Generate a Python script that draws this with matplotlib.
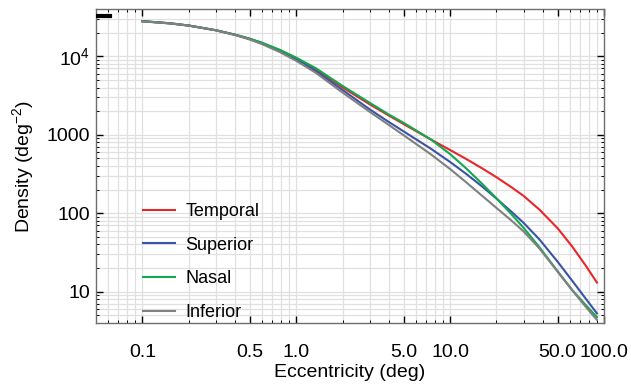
import matplotlib
matplotlib.use("Agg")
import matplotlib.pyplot as plt
import numpy as np

plt.rcParams['font.family'] = ['Liberation Sans', 'DejaVu Sans']
plt.rcParams['mathtext.fontset'] = 'custom'
plt.rcParams['mathtext.rm'] = 'Liberation Sans'
plt.rcParams['mathtext.it'] = 'Liberation Sans'

# Data
ecc = [0.1, 0.15, 0.2, 0.3, 0.4, 0.5, 0.6, 0.78, 1.0, 1.34, 2.0, 3.0, 4.0, 5.0,
       7.5, 10.0, 12.6, 16.2, 20.0, 25.0, 30.0, 38.0, 50.0, 62.0, 76.0, 90.0]
temporal = [28000, 26330, 24640, 21470, 18820, 16650, 14750, 11960, 9450, 6810, 4010, 2445, 1756, 1365,
            870, 639, 497, 372, 288, 215, 166.6, 111.6, 64.3, 37.9, 21.6, 13.1]
superior = [27950, 26300, 24620, 21450, 18770, 16520, 14580, 11740, 9200, 6510, 3720, 2110, 1453, 1101,
            664, 450, 322, 218, 154, 105, 75.6, 46.6, 24.1, 13.9, 8.2, 5.3]
nasal = [28000, 26330, 24640, 21470, 18860, 16720, 14850, 12100, 9600, 7050, 4190, 2557, 1810, 1415,
         871, 567, 379, 236, 155, 97.5, 65.3, 37.1, 18.2, 10.6, 6.78, 4.75]
inferior = [27800, 26200, 24550, 21400, 18660, 16310, 14270, 11340, 8750, 6160, 3450, 1962, 1332, 984,
            563, 366, 252, 166, 117, 81, 58.8, 35.7, 18.0, 10.5, 6.45, 4.38]

series = [("Temporal", temporal, "#e8262a"),
          ("Superior", superior, "#3a53a4"),
          ("Nasal", nasal, "#11a84e"),
          ("Inferior", inferior, "#808080")]

xticks = [0.1, 0.5, 1.0, 5.0, 10.0, 50.0, 100.0]
xticklabels = ["0.1", "0.5", "1.0", "5.0", "10.0", "50.0", "100.0"]
yticks = [10, 100, 1000, 10000]
yticklabels = ["10", "100", "1000", "$10^4$"]

fig = plt.figure(figsize=(6.31, 3.84), dpi=100)
ax = fig.add_axes([96/631, (384-323)/384, 508/631, 314/384])

for name, vals, col in series:
    ax.plot(ecc, vals, color=col, lw=1.5, label=name, zorder=3,
            solid_joinstyle='round')

ax.set_xscale('log')
ax.set_yscale('log')
ax.set_xlim(0.05, 100)
ax.set_ylim(4, 40000)

# grid at all major & minor positions
xgrid = [m * 10.0**e for e in range(-2, 2) for m in range(1, 10)]
xgrid = [v for v in xgrid if 0.05 < v < 100]
ygrid = [m * 10.0**e for e in range(0, 5) for m in range(1, 10)]
ygrid = [v for v in ygrid if 4 < v < 40000]
for v in xgrid:
    ax.axvline(v, color='#e0e0e0', lw=0.9, zorder=1)
for v in ygrid:
    ax.axhline(v, color='#e0e0e0', lw=0.9, zorder=1)

ax.set_xticks(xticks)
ax.set_xticklabels(xticklabels)
ax.set_yticks(yticks)
ax.set_yticklabels(yticklabels)
ax.set_xticks([v for v in xgrid if v not in xticks], minor=True)
ax.set_yticks([v for v in ygrid if v not in yticks], minor=True)
ax.xaxis.set_minor_formatter(matplotlib.ticker.NullFormatter())
ax.yaxis.set_minor_formatter(matplotlib.ticker.NullFormatter())

ax.tick_params(which='both', direction='in', top=True, right=True, colors='black', labelsize=14)
ax.tick_params(which='major', length=5, width=1.0)
ax.tick_params(which='minor', length=2.5, width=0.7)
ax.tick_params(axis='x', pad=15)
ax.tick_params(axis='y', pad=4)

for s in ax.spines.values():
    s.set_color('#6e6e6e')
    s.set_linewidth(1.0)

# top-left dark mark
ax.axhline(33000, xmin=0, xmax=0.028, color='black', lw=3, zorder=4)

ax.set_xlabel("Eccentricity (deg)", fontsize=14, labelpad=2)
ax.set_ylabel("Density (deg$^{-2}$)", fontsize=14, labelpad=8)

leg = ax.legend(loc='lower left', bbox_to_anchor=(0.06, -0.045), frameon=False,
                fontsize=13, handlelength=1.8, handletextpad=0.55, labelspacing=0.92)

fig.savefig("out.png", dpi=100)
